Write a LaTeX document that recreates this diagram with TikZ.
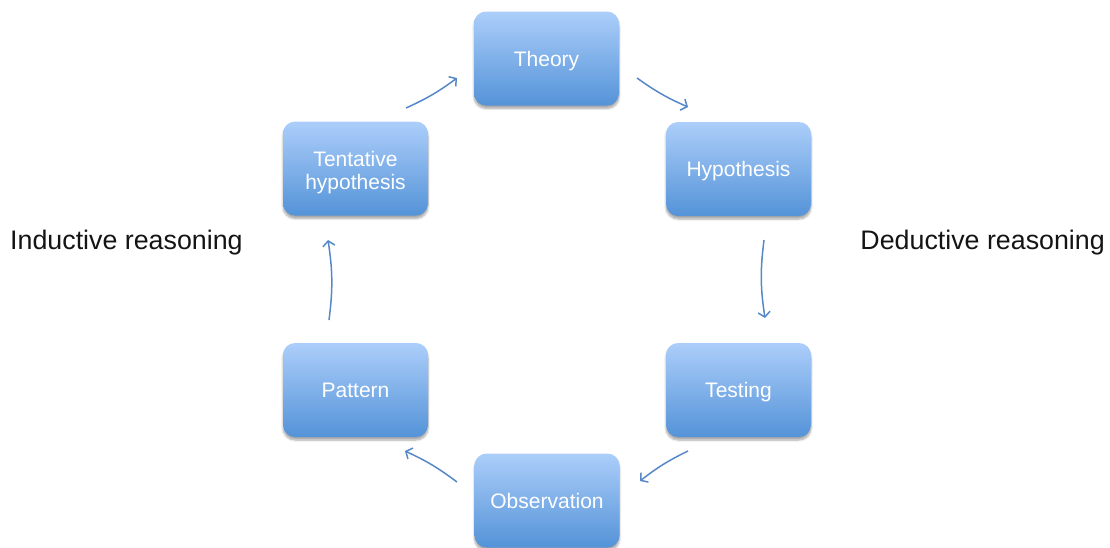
\documentclass[tikz,border=0pt]{standalone}
\usepackage{fontspec}
\setmainfont{Liberation Sans}
\usetikzlibrary{arrows.meta,shadows.blur}

\definecolor{boxtop}{RGB}{172,206,250}
\definecolor{boxbottom}{RGB}{84,147,216}
\definecolor{arrowblue}{RGB}{86,136,200}
\definecolor{labelgray}{RGB}{20,20,20}

\tikzset{
  stagebox/.style={
    rounded corners=12pt,
    minimum width=145pt, minimum height=94pt,
    top color=boxtop, bottom color=boxbottom,
    text=white, align=center,
    text height=15pt, text depth=0pt,
    font=\fontsize{21}{23}\selectfont,
    blur shadow={shadow xshift=0pt, shadow yshift=-3pt,
                 shadow blur steps=6, shadow opacity=35}
  },
  twoline/.style={text height={}, text depth={}},
  cyclearrow/.style={
    draw=arrowblue, line width=1.5pt,
    -{Straight Barb[length=5pt,width=12pt]}
  },
  sidelabel/.style={
    text=labelgray, inner sep=0pt,
    font=\fontsize{26.8}{30}\selectfont
  }
}

\begin{document}
\begin{tikzpicture}[x=1pt,y=-1pt]
  \useasboundingbox (0,0) rectangle (1110,547);

  % the six stages of the research cycle
  \node[stagebox] (theory)      at (546.5,58.5) {Theory};
  \node[stagebox] (hypothesis)  at (738.5,169)  {Hypothesis};
  \node[stagebox] (testing)     at (738.5,390)  {Testing};
  \node[stagebox] (observation) at (547,500.5)  {Observation};
  \node[stagebox] (pattern)     at (355.5,390)  {Pattern};
  \node[stagebox, twoline] (tentative) at (355.5,168.5)
    {\rule{0pt}{24pt}Tentative\\hypothesis};

  % the two kinds of reasoning
  \node[sidelabel, anchor=base west] (inductive) at (10,249) {Inductive reasoning};
  \node[sidelabel, anchor=base east] (deductive) at (1105,249) {Deductive reasoning};

  % end points of the arrows in the gaps between stages
  \coordinate (th-s) at (637,78);   \coordinate (th-e) at (688,107);
  \coordinate (hy-s) at (764,240);  \coordinate (hy-e) at (765,318);
  \coordinate (te-s) at (688,451);  \coordinate (te-e) at (640,481);
  \coordinate (ob-s) at (457,482);  \coordinate (ob-e) at (405,451);
  \coordinate (pa-s) at (329,320);  \coordinate (pa-e) at (328,240);
  \coordinate (tt-s) at (406,108);  \coordinate (tt-e) at (457,78);

  \draw[cyclearrow] (th-s) to[bend right=6] (th-e);
  \draw[cyclearrow] (hy-s) to[bend right=8] (hy-e);
  \draw[cyclearrow] (te-s) to[bend right=6] (te-e);
  \draw[cyclearrow] (ob-s) to[bend right=6] (ob-e);
  \draw[cyclearrow] (pa-s) to[bend right=8] (pa-e);
  \draw[cyclearrow] (tt-s) to[bend right=6] (tt-e);
\end{tikzpicture}
\end{document}
